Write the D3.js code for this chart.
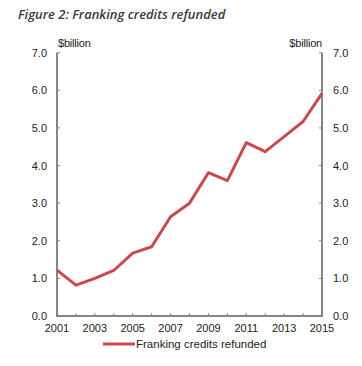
<!DOCTYPE html>
<html><head><meta charset="utf-8">
<script src="https://cdn.jsdelivr.net/npm/d3@7"></script>
<style>body{margin:0;background:#fff;}svg{display:block;}</style>
</head><body>
<script>
const years = [2001,2002,2003,2004,2005,2006,2007,2008,2009,2010,2011,2012,2013,2014,2015];
const refunded = [1.22,0.82,1.0,1.21,1.67,1.84,2.64,3.0,3.81,3.60,4.61,4.37,4.77,5.17,5.92];
const yTicks = [0,1,2,3,4,5,6,7];
const xTickLabels = [2001,2003,2005,2007,2009,2011,2013,2015];
const seriesName = "Franking credits refunded";
const title = "Figure 2: Franking credits refunded";
const unit = "$billion";

const W=362,H=366;
const svg=d3.select("body").append("svg").attr("width",W).attr("height",H);
const pLeft=57,pRight=322,pTop=52.7,pBottom=316;
const x=d3.scaleLinear().domain([2001,2015]).range([pLeft,pRight]);
const y=d3.scaleLinear().domain([0,7]).range([pBottom,pTop]);
const font="'Liberation Sans', Arial, sans-serif";
const axisCol="#858585", txtCol="#222";

svg.append("text").attr("x",18).attr("y",19).attr("font-family","'Open Sans', sans-serif")
  .attr("font-style","italic").attr("font-weight",600).attr("font-size",13).attr("fill","#3a3a3a").text(title);

const g=svg.append("g");
yTicks.forEach(t=>{
  g.append("line").attr("x1",pLeft).attr("x2",pLeft+3).attr("y1",y(t)).attr("y2",y(t)).attr("stroke",axisCol).attr("stroke-width",1);
  g.append("line").attr("x1",pRight-3).attr("x2",pRight).attr("y1",y(t)).attr("y2",y(t)).attr("stroke",axisCol).attr("stroke-width",1);
  g.append("text").attr("x",47).attr("y",y(t)+4).attr("text-anchor","end").attr("font-family",font).attr("font-size",11).attr("fill",txtCol).text(d3.format(".1f")(t));
  g.append("text").attr("x",333).attr("y",y(t)+4).attr("text-anchor","start").attr("font-family",font).attr("font-size",11).attr("fill",txtCol).text(d3.format(".1f")(t));
});
years.forEach(yr=>{
  g.append("line").attr("x1",x(yr)).attr("x2",x(yr)).attr("y1",pBottom).attr("y2",pBottom-3).attr("stroke",axisCol).attr("stroke-width",1);
});
xTickLabels.forEach(yr=>{
  g.append("text").attr("x",x(yr)).attr("y",332).attr("text-anchor","middle").attr("font-family",font).attr("font-size",11).attr("fill",txtCol).text(yr);
});
g.append("path").attr("d",`M${pLeft},${pTop}V${pBottom}H${pRight}V${pTop}`).attr("fill","none").attr("stroke",axisCol).attr("stroke-width",2);

svg.append("text").attr("x",pLeft+1).attr("y",47).attr("font-family",font).attr("font-size",11).attr("letter-spacing",-0.2).attr("fill",txtCol).text(unit);
svg.append("text").attr("x",pRight).attr("y",47).attr("text-anchor","end").attr("font-family",font).attr("font-size",11).attr("letter-spacing",-0.2).attr("fill",txtCol).text(unit);

const line=d3.line().x((d,i)=>x(years[i])).y(d=>y(d));
svg.append("path").datum(refunded).attr("d",line).attr("fill","none").attr("stroke","#c84a4c").attr("stroke-width",3).attr("stroke-linejoin","round");

svg.append("line").attr("x1",103).attr("x2",135).attr("y1",344).attr("y2",344).attr("stroke","#c84a4c").attr("stroke-width",3);
svg.append("text").attr("x",136).attr("y",348).attr("font-family",font).attr("font-size",11.5).attr("fill",txtCol).text(seriesName);
</script>
</body></html>
